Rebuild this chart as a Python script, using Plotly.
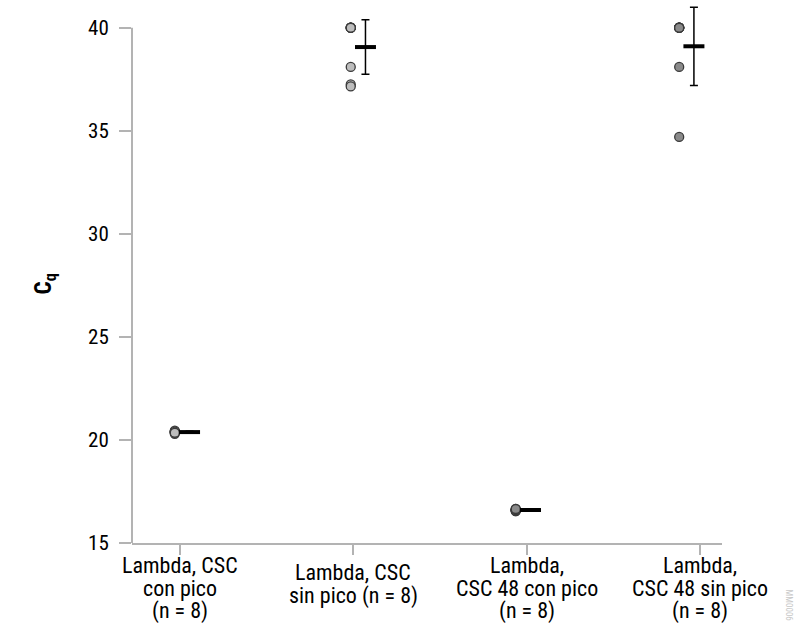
import numpy as np
import plotly.graph_objects as go

category_lines = [
    ["Lambda, CSC", "con pico", "(n = 8)"],
    ["Lambda, CSC", "sin pico (n = 8)"],
    ["Lambda,", "CSC 48 con pico", "(n = 8)"],
    ["Lambda,", "CSC 48 sin pico", "(n = 8)"],
]
cq_csc_con = [20.3, 20.35, 20.4, 20.4, 20.4, 20.45, 20.4, 20.35]
cq_csc_sin = [40.0, 40.0, 40.0, 40.0, 40.0, 38.1, 37.25, 37.15]
cq_csc48_con = [16.55, 16.6, 16.6, 16.65, 16.6, 16.55, 16.6, 16.65]
cq_csc48_sin = [40.0, 40.0, 40.0, 40.0, 40.0, 40.0, 38.1, 34.7]
series = [cq_csc_con, cq_csc_sin, cq_csc48_con, cq_csc48_sin]
y_ticks = [15, 20, 25, 30, 35, 40]

dot_colors = ["#bdbdbd", "#bdbdbd", "#8a8a8a", "#8a8a8a"]
dot_offsets = [-0.03, -0.015, -0.063, -0.12]
bar_shift = 0.085

FONT = "Roboto Condensed, Roboto, sans-serif"
AXIS_GREY = "#b3b3b3"

fig = go.Figure()
for i, vals in enumerate(series):
    xd = [i + dot_offsets[i]] * len(vals)
    fig.add_trace(go.Scatter(
        x=xd, y=vals, mode="markers", cliponaxis=False, showlegend=False,
        marker=dict(size=9, color=dot_colors[i], line=dict(color="#3a3a3a", width=1.3)),
    ))
    m = float(np.mean(vals))
    sd = float(np.std(vals, ddof=1))
    fig.add_trace(go.Scatter(
        x=[i + dot_offsets[i] + bar_shift], y=[m], mode="markers", cliponaxis=False,
        showlegend=False,
        marker=dict(symbol="line-ew", size=15, line=dict(color="black", width=4)),
        error_y=dict(type="data", array=[sd], visible=True, color="black",
                     thickness=1.5, width=4),
    ))

LINE_H = 23
for i, lines in enumerate(category_lines):
    n = len(lines)
    centre = -45 if n == 3 else -41
    for k, txt in enumerate(lines):
        off = centre + ((n - 1) / 2 - k) * LINE_H
        fig.add_annotation(x=i, y=0, xref="x", yref="paper", text=txt, yshift=off,
                           showarrow=False, xanchor="center", yanchor="middle",
                           borderpad=0,
                           font=dict(family=FONT, size=22, color="black"))

fig.add_annotation(x=1.113, y=-0.115, xref="paper", yref="paper", text="MM0006",
                   showarrow=False, textangle=90, xanchor="center", yanchor="middle",
                   font=dict(family=FONT, size=9, color="#c8c8c8"))
fig.add_annotation(x=-0.148, y=0.48, xref="paper", yref="paper", text="C<sub>q</sub>",
                   showarrow=False, textangle=-90, xanchor="center", yanchor="middle",
                   font=dict(family=FONT, size=23, color="black", weight="bold"))

# y axis line only spans the 15-40 tick range
fig.add_shape(type="line", xref="paper", yref="y", x0=0, x1=0, y0=15, y1=40,
              line=dict(color=AXIS_GREY, width=2), layer="above")

fig.update_layout(
    width=805, height=637,
    margin=dict(l=132, r=83, t=3, b=94),
    plot_bgcolor="white", paper_bgcolor="white",
    font=dict(family=FONT, size=21, color="black"),
)
fig.update_xaxes(
    range=[-0.277, 3.127], tickvals=[0, 1, 2, 3], showticklabels=False,
    showgrid=False, zeroline=False, showline=True, linecolor=AXIS_GREY, linewidth=2,
    ticks="outside", ticklen=10, tickwidth=2, tickcolor=AXIS_GREY,
)
fig.update_yaxes(
    range=[15, 41.2], tickvals=y_ticks, showgrid=False, zeroline=False,
    showline=False,
    ticks="outside", ticklen=12, tickwidth=2, tickcolor=AXIS_GREY,
    ticklabelstandoff=6, tickfont=dict(family=FONT, size=21, color="black"),
)

fig.write_html("out.html", config={"displayModeBar": False},
               post_script="document.body.style.margin='0';")
